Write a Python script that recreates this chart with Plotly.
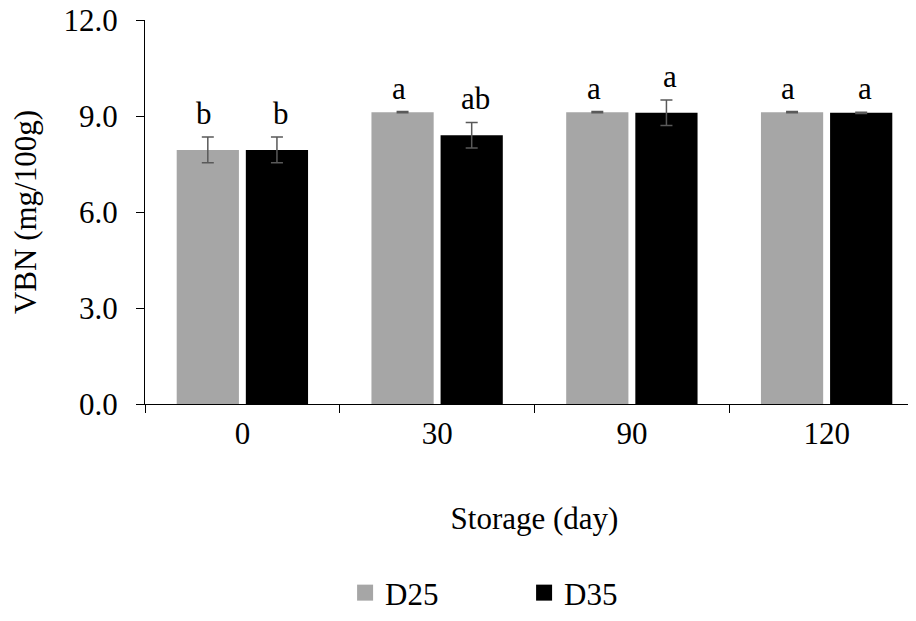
import plotly.graph_objects as go

categories = ["0", "30", "90", "120"]
d25_values = [7.94, 9.12, 9.12, 9.12]
d35_values = [7.94, 8.40, 9.10, 9.10]
d25_err = [0.40, 0.02, 0.02, 0.02]
d35_err = [0.40, 0.40, 0.40, 0.02]
d25_letters = ["b", "a", "a", "a"]
d35_letters = ["b", "ab", "a", "a"]
y_ticks = [0, 3, 6, 9, 12]
y_tick_labels = ["0.0", "3.0", "6.0", "9.0", "12.0"]

FONT = "Liberation Serif"
FS = 31
GRAY = "#A6A6A6"
BLACK = "#000000"

fig = go.Figure()
fig.add_trace(go.Bar(
    name="D25", x=categories, y=d25_values, showlegend=False,
    marker=dict(color=GRAY, line=dict(width=0)),
    error_y=dict(type="data", array=d25_err, visible=True,
                 color="#595959", thickness=1.5, width=6),
))
fig.add_trace(go.Bar(
    name="D35", x=categories, y=d35_values, showlegend=False,
    marker=dict(color=BLACK, line=dict(width=0)),
    error_y=dict(type="data", array=d35_err, visible=True,
                 color="#595959", thickness=1.5, width=6),
))
# legend entries with larger square symbols
for name, col in [("D25", GRAY), ("D35", BLACK)]:
    fig.add_trace(go.Scatter(
        name=name, x=[None], y=[None], mode="markers",
        marker=dict(symbol="square", size=16, color=col, line=dict(width=0)),
        showlegend=True, hoverinfo="skip",
    ))

off = 0.196
for i in range(len(categories)):
    fig.add_annotation(x=i - off, y=d25_values[i] + d25_err[i], text=d25_letters[i],
                       showarrow=False, yanchor="bottom", yshift=4,
                       font=dict(family=FONT, size=FS, color="black"))
    fig.add_annotation(x=i + off, y=d35_values[i] + d35_err[i], text=d35_letters[i],
                       showarrow=False, yanchor="bottom", yshift=4,
                       font=dict(family=FONT, size=FS, color="black"))

fig.update_layout(
    width=916, height=613,
    margin=dict(l=137, r=0, t=12, b=217, autoexpand=False),
    paper_bgcolor="white", plot_bgcolor="white",
    barmode="group", bargap=0.29, bargroupgap=0.10,
    font=dict(family=FONT, size=FS, color="black"),
    showlegend=True,
    legend=dict(orientation="h", xref="container", yref="container",
                x=0.368, xanchor="left", y=0.0457, yanchor="middle",
                font=dict(family=FONT, size=FS), entrywidth=134, itemwidth=30,
                bgcolor="rgba(0,0,0,0)"),
    xaxis=dict(
        range=[-0.5, 3.5], showline=True, linecolor="black", linewidth=1,
        ticks="outside", tickson="boundaries", ticklen=8, tickcolor="black",
        showgrid=False, ticklabelstandoff=2, automargin=False,
        title=dict(text="Storage (day)", standoff=57, font=dict(family=FONT, size=FS)),
    ),
    yaxis=dict(
        range=[0, 12], tickvals=y_ticks, ticktext=y_tick_labels,
        showline=True, linecolor="black", linewidth=1,
        ticks="outside", ticklen=8, tickcolor="black", showgrid=False, zeroline=False,
        ticklabelstandoff=12, ticklabeloverflow="allow", automargin=False,
        title=dict(text="VBN (mg/100g)", standoff=23, font=dict(family=FONT, size=FS)),
    ),
)

fig.write_html("out.html")
